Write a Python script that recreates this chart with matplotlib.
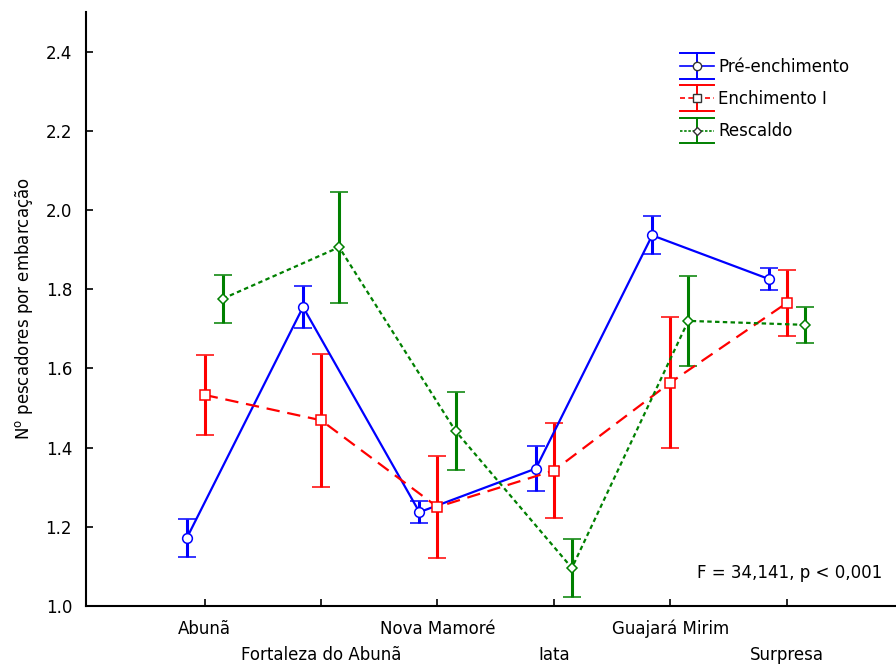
import matplotlib.pyplot as plt
import numpy as np
from matplotlib.legend_handler import HandlerBase
from matplotlib.lines import Line2D

plt.rcParams['font.family'] = ['DejaVu Sans']

sites = ['Abunã', 'Fortaleza do Abunã', 'Nova Mamoré', 'Iata', 'Guajará Mirim', 'Surpresa']

# means and error half-widths
pre_mean = [1.171, 1.755, 1.237, 1.347, 1.936, 1.826]
pre_err = [0.048, 0.053, 0.028, 0.057, 0.048, 0.028]
ench_mean = [1.533, 1.469, 1.250, 1.342, 1.564, 1.765]
ench_err = [0.100, 0.168, 0.129, 0.121, 0.165, 0.084]
resc_mean = [1.776, 1.906, 1.442, 1.096, 1.720, 1.710]
resc_err = [0.061, 0.140, 0.099, 0.073, 0.113, 0.045]

x = np.arange(len(sites))
off = 0.155
fs = 12


class ErrHandler(HandlerBase):
    # statistica-like legend key: line, full-width caps, vertical bar, marker
    def __init__(self, color, ls, marker, msize):
        super().__init__()
        self.color, self.ls, self.marker, self.msize = color, ls, marker, msize

    def create_artists(self, legend, orig_handle, xdescent, ydescent,
                       width, height, fontsize, trans):
        x0, x1 = -xdescent, width - xdescent
        xm = (x0 + x1) / 2
        y = height / 2 - ydescent
        h = 9.3
        arts = [
            Line2D([x0, x1], [y, y], color=self.color, ls=self.ls, lw=1.2),
            Line2D([xm, xm], [y - h, y + h], color=self.color, lw=1.4),
            Line2D([x0, x1], [y + h, y + h], color=self.color, lw=1.4),
            Line2D([x0, x1], [y - h, y - h], color=self.color, lw=1.4),
            Line2D([xm], [y], marker=self.marker, markersize=self.msize,
                   markerfacecolor='white', markeredgecolor='#333333',
                   markeredgewidth=1.0, ls='none'),
        ]
        for a in arts:
            a.set_transform(trans)
        return arts


fig = plt.figure(figsize=(8.96, 6.64), dpi=100)
ax = fig.add_axes([86 / 896, 58 / 664, 810 / 896, 594 / 664])

common = dict(elinewidth=2.2, capsize=6.5, capthick=2, markeredgewidth=1.1,
              markerfacecolor='white', lw=1.6)
e1 = ax.errorbar(x - off, pre_mean, yerr=pre_err, color='#0000ff', marker='o',
                 markersize=7, ls='-', **common)
e2 = ax.errorbar(x, ench_mean, yerr=ench_err, color='#ff0000', marker='s',
                 markersize=7.5, ls=(0, (6, 3.5)), **common)
e3 = ax.errorbar(x + off, resc_mean, yerr=resc_err, color='#008000', marker='D',
                 markersize=5, ls=(0, (2, 1.5)), **common)

ax.set_xlim(-1.02, 5.94)
ax.set_ylim(1.0, 2.5)
yt = np.arange(1.0, 2.41, 0.2)
ax.set_yticks(yt)
ax.set_yticklabels([f'{v:.1f}' for v in yt])
ax.set_xticks(x)
ax.set_xticklabels(sites)

for side in ['top', 'right']:
    ax.spines[side].set_visible(False)
for side in ['left', 'bottom']:
    ax.spines[side].set_linewidth(1.5)
ax.tick_params(direction='in', length=5, width=1.2, labelsize=fs)
ax.tick_params(axis='y', pad=10)
for i, t in enumerate(ax.xaxis.get_major_ticks()):
    t.set_pad(10 if i % 2 == 0 else 29)

ax.set_ylabel('N$^\\mathregular{o}$ pescadores por embarcação', fontsize=fs, labelpad=8)

ax.text(0.983, 0.055, 'F = 34,141, p < 0,001', transform=ax.transAxes,
        ha='right', va='center', fontsize=fs)

labels = ['Pré-enchimento', 'Enchimento I', 'Rescaldo']
handles = [e1, e2, e3]
hmap = {
    e1: ErrHandler('#0000ff', '-', 'o', 6),
    e2: ErrHandler('#ff0000', (0, (3, 2)), 's', 6),
    e3: ErrHandler('#008000', (0, (1.5, 1)), 'D', 4.5),
}
fig.legend(handles, labels, loc='upper left', bbox_to_anchor=(680 / 896, 1 - 58 / 664),
           frameon=False, fontsize=fs, handlelength=2.05, handletextpad=0.25,
           labelspacing=0.85, borderpad=0, borderaxespad=0, handler_map=hmap)

fig.savefig('out.png', dpi=100)
